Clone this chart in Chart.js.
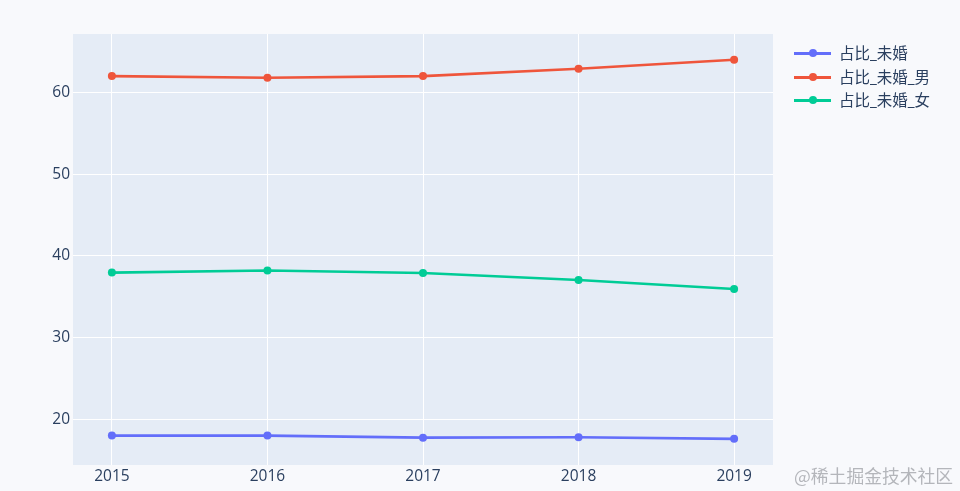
<!DOCTYPE html>
<html>
<head>
<meta charset="utf-8">
<script src="https://cdn.jsdelivr.net/npm/chart.js@4"></script>
<style>
  html, body { margin: 0; padding: 0; background: #f8f9fc; }
  #wrap { position: relative; width: 960px; height: 491px; }
  #chart { position: absolute; left: 0; top: 0; }
  .legend { position: absolute; left: 794px; top: 0; font: 15.5px "Open Sans", "Noto Sans CJK SC", sans-serif; color: #2a3f5f; }
  .legend .item { position: absolute; left: 0; height: 24px; line-height: 24px; padding-left: 45px; white-space: nowrap; }
  .legend .line { position: absolute; left: 0; top: 11px; width: 37px; height: 2.5px; }
  .legend .dot { position: absolute; left: 14.5px; top: 8px; width: 8px; height: 8px; border-radius: 50%; }
  .mark { position: absolute; left: 794px; top: 462px; line-height: 26px; font: 17.8px "Noto Sans CJK SC", sans-serif; color: #b4b6bb; white-space: nowrap; }
</style>
</head>
<body>
<div id="wrap">
  <canvas id="chart" width="960" height="491"></canvas>
  <div class="legend" id="legend"></div>
  <div class="mark">@稀土掘金技术社区</div>
</div>
<script>
const years = [2015, 2016, 2017, 2018, 2019];
const yTicks = [20, 30, 40, 50, 60];
const seriesNames = ['占比_未婚', '占比_未婚_男', '占比_未婚_女'];
const weihun = [18.0, 18.0, 17.75, 17.8, 17.6];
const weihunNan = [62.0, 61.8, 62.0, 62.9, 64.0];
const weihunNv = [37.95, 38.2, 37.9, 37.05, 35.95];
const colors = ['#636efa', '#ef553b', '#00cc96'];

const values = [weihun, weihunNan, weihunNv];
const tickColor = '#2a3f5f';
const tickFont = { family: '"Open Sans", sans-serif', size: 15.5 };

const plotBg = {
    id: 'plotBg',
    beforeDraw(chart) {
        const a = chart.chartArea;
        const ctx = chart.ctx;
        ctx.save();
        ctx.fillStyle = '#e5ecf6';
        ctx.fillRect(a.left, a.top, a.right - a.left, a.bottom - a.top);
        ctx.restore();
    }
};

new Chart(document.getElementById('chart').getContext('2d'), {
    type: 'line',
    data: {
        datasets: values.map((v, i) => ({
            label: seriesNames[i],
            data: v.map((y, j) => ({ x: years[j], y: y })),
            borderColor: colors[i],
            backgroundColor: colors[i],
            borderWidth: 2.6,
            pointRadius: 4,
            pointBorderWidth: 0,
            tension: 0,
            fill: false
        }))
    },
    options: {
        responsive: false,
        animation: false,
        layout: { padding: { left: 0, top: 34, right: 187, bottom: 0 } },
        plugins: { legend: { display: false }, tooltip: { enabled: false } },
        scales: {
            x: {
                type: 'linear',
                min: 2014.75,
                max: 2019.25,
                afterBuildTicks(scale) { scale.ticks = years.map(v => ({ value: v })); },
                afterFit(scale) { scale.height = 26; },
                grid: { color: '#ffffff', lineWidth: 1, drawTicks: false },
                border: { display: false },
                ticks: { color: tickColor, font: tickFont, padding: 2, maxRotation: 0, callback: v => String(v) }
            },
            y: {
                type: 'linear',
                min: 14.4,
                max: 67.15,
                afterBuildTicks(scale) { scale.ticks = yTicks.map(v => ({ value: v })); },
                afterFit(scale) { scale.width = 73; },
                grid: { color: '#ffffff', lineWidth: 1, drawTicks: false },
                border: { display: false },
                ticks: { color: tickColor, font: tickFont, padding: 3 }
            }
        }
    },
    plugins: [plotBg]
});

// legend rows, plotly style
const legendTops = [41, 65, 88];
const legend = document.getElementById('legend');
seriesNames.forEach((name, i) => {
    const item = document.createElement('div');
    item.className = 'item';
    item.style.top = legendTops[i] + 'px';
    item.innerHTML = '<span class="line" style="background:' + colors[i] + '"></span>' +
        '<span class="dot" style="background:' + colors[i] + '"></span>' + name;
    legend.appendChild(item);
});
</script>
</body>
</html>
